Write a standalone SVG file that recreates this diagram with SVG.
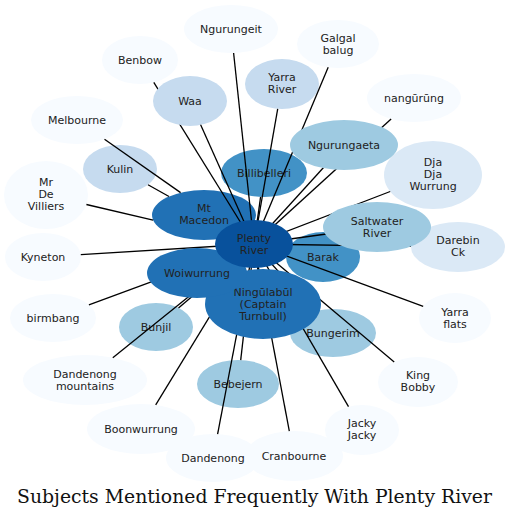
<svg xmlns="http://www.w3.org/2000/svg" width="511" height="519" viewBox="0 0 511 519">
<style>
text{font-family:"DejaVu Sans","Noto Sans",sans-serif;font-size:11px;fill:#222;text-anchor:middle}
.c0{fill:#f7fbff}.c1{fill:#dbe9f6}.c2{fill:#c6dbef}.c3{fill:#9ecae1}.c4{fill:#4292c6}.c5{fill:#2171b5}.c6{fill:#08519c}
#edges line{stroke:#000;stroke-width:1.3}
.title{font-family:"DejaVu Serif","Liberation Serif",serif;font-size:18px;fill:#111}
</style>
<rect width="511" height="519" fill="#fff"/>
<g id="n-ngurungeit"><ellipse class="c0" cx="231" cy="29" rx="47" ry="24"/><text x="231" y="33">Ngurungeit</text></g>
<g id="n-galgal"><ellipse class="c0" cx="338" cy="44" rx="41" ry="24"/><text x="338" y="42">Galgal</text><text x="338" y="54">balug</text></g>
<g id="n-benbow"><ellipse class="c0" cx="140" cy="60" rx="38" ry="24"/><text x="140" y="64">Benbow</text></g>
<g id="n-nangurung"><ellipse class="c0" cx="414" cy="98" rx="47" ry="24"/><text x="414" y="102">nangūrūng</text></g>
<g id="n-melbourne"><ellipse class="c0" cx="77" cy="120" rx="46" ry="24"/><text x="77" y="124">Melbourne</text></g>
<g id="n-villiers"><ellipse class="c0" cx="46" cy="195" rx="42" ry="34"/><text x="46" y="186">Mr</text><text x="46" y="198">De</text><text x="46" y="210">Villiers</text></g>
<g id="n-kyneton"><ellipse class="c0" cx="43" cy="257" rx="38" ry="24"/><text x="43" y="261">Kyneton</text></g>
<g id="n-birmbang"><ellipse class="c0" cx="53" cy="318" rx="43" ry="24"/><text x="53" y="322">birmbang</text></g>
<g id="n-yarraflats"><ellipse class="c0" cx="455" cy="318" rx="36" ry="25"/><text x="455" y="316">Yarra</text><text x="455" y="328">flats</text></g>
<g id="n-dandmtns"><ellipse class="c0" cx="85" cy="380" rx="62" ry="25"/><text x="85" y="378">Dandenong</text><text x="85" y="390">mountains</text></g>
<g id="n-kingbobby"><ellipse class="c0" cx="418" cy="382" rx="40" ry="25"/><text x="418" y="379">King</text><text x="418" y="391">Bobby</text></g>
<g id="n-boonwurrung"><ellipse class="c0" cx="141" cy="429" rx="54" ry="25"/><text x="141" y="433">Boonwurrung</text></g>
<g id="n-jacky"><ellipse class="c0" cx="362" cy="430" rx="37" ry="25"/><text x="362" y="427">Jacky</text><text x="362" y="439">Jacky</text></g>
<g id="n-dandenong"><ellipse class="c0" cx="213" cy="458" rx="47" ry="24"/><text x="213" y="462">Dandenong</text></g>
<g id="n-cranbourne"><ellipse class="c0" cx="294" cy="456" rx="49" ry="25"/><text x="294" y="460">Cranbourne</text></g>
<g id="n-dja"><ellipse class="c1" cx="433" cy="175" rx="49" ry="34"/><text x="433" y="166">Dja</text><text x="433" y="178">Dja</text><text x="433" y="190">Wurrung</text></g>
<g id="n-darebin"><ellipse class="c1" cx="458" cy="247" rx="47" ry="25"/><text x="458" y="244">Darebin</text><text x="458" y="256">Ck</text></g>
<g id="n-yarrariver"><ellipse class="c2" cx="282" cy="84" rx="37" ry="25"/><text x="282" y="81">Yarra</text><text x="282" y="93">River</text></g>
<g id="n-kulin"><ellipse class="c2" cx="120" cy="169" rx="37" ry="24"/><text x="120" y="173">Kulin</text></g>
<g id="n-billibelleri"><ellipse class="c4" cx="264" cy="173" rx="43" ry="24"/><text x="264" y="177">Billibelleri</text></g>
<g id="n-macedon"><ellipse class="c5" cx="204" cy="215" rx="52" ry="25"/><text x="204" y="212">Mt</text><text x="204" y="224">Macedon</text></g>
<g id="n-barak"><ellipse class="c4" cx="323" cy="257" rx="37" ry="25"/><text x="323" y="261">Barak</text></g>
<g id="n-bunjil"><ellipse class="c3" cx="156" cy="327" rx="37" ry="24"/><text x="156" y="331">Bunjil</text></g>
<g id="n-bungerim"><ellipse class="c3" cx="333" cy="333" rx="43" ry="24"/><text x="333" y="337">Bungerim</text></g>
<g id="n-bebejern"><ellipse class="c3" cx="238" cy="384" rx="41" ry="24"/><text x="238" y="388">Bebejern</text></g>
<g id="edges">
<line x1="233.6" y1="53" x2="254" y2="244"/>
<line x1="328.2" y1="67.3" x2="254" y2="244"/>
<line x1="153.8" y1="82.3" x2="254" y2="244"/>
<line x1="190" y1="101" x2="254" y2="244"/>
<line x1="277.7" y1="108.8" x2="254" y2="244"/>
<line x1="391.1" y1="118.9" x2="254" y2="244"/>
<line x1="104.5" y1="139.3" x2="180.6" y2="192.6"/>
<line x1="344" y1="145" x2="254" y2="244"/>
<line x1="148" y1="184.7" x2="169" y2="196.5"/>
<line x1="260.6" y1="196.9" x2="254" y2="244"/>
<line x1="390.2" y1="191.5" x2="254" y2="244"/>
<line x1="86.4" y1="204.5" x2="153.1" y2="220.2"/>
<line x1="237.2" y1="234.3" x2="254" y2="244"/>
<line x1="377" y1="227" x2="254" y2="244"/>
<line x1="411" y1="246.3" x2="254" y2="244"/>
<line x1="80.8" y1="254.7" x2="254" y2="244"/>
<line x1="287.4" y1="250.3" x2="254" y2="244"/>
<line x1="197" y1="273" x2="254" y2="244"/>
<line x1="263" y1="304" x2="254" y2="244"/>
<line x1="88.9" y1="304.8" x2="254" y2="244"/>
<line x1="423.2" y1="306.3" x2="254" y2="244"/>
<line x1="178.5" y1="307.9" x2="254" y2="244"/>
<line x1="313.9" y1="311.5" x2="254" y2="244"/>
<line x1="112.8" y1="357.7" x2="254" y2="244"/>
<line x1="394.2" y1="361.9" x2="254" y2="244"/>
<line x1="240.7" y1="360.1" x2="254" y2="244"/>
<line x1="155.7" y1="404.9" x2="254" y2="244"/>
<line x1="348.5" y1="406.7" x2="254" y2="244"/>
<line x1="217.6" y1="434.1" x2="254" y2="244"/>
<line x1="289.3" y1="431.1" x2="254" y2="244"/>
</g>
<g id="n-ningulabul"><ellipse class="c5" cx="263" cy="304" rx="58" ry="35"/><text x="263" y="296">Ningūlabūl</text><text x="263" y="308">(Captain</text><text x="263" y="320">Turnbull)</text></g>
<g id="n-woiwurrung"><ellipse class="c5" cx="197" cy="273" rx="50" ry="25"/><text x="197" y="277">Woiwurrung</text></g>
<g id="n-waa"><ellipse class="c2" cx="190" cy="101" rx="37" ry="25"/><text x="190" y="105">Waa</text></g>
<g id="n-ngurungaeta"><ellipse class="c3" cx="344" cy="145" rx="54" ry="25"/><text x="344" y="149">Ngurungaeta</text></g>
<g id="n-saltwater"><ellipse class="c3" cx="377" cy="227" rx="54" ry="25"/><text x="377" y="225">Saltwater</text><text x="377" y="237">River</text></g>
<g id="n-plenty"><ellipse class="c6" cx="254" cy="244" rx="39" ry="24"/><text x="254" y="242">Plenty</text><text x="254" y="254">River</text></g>
<text class="title" x="254.5" y="503" textLength="475" lengthAdjust="spacingAndGlyphs">Subjects Mentioned Frequently With Plenty River</text>
</svg>
